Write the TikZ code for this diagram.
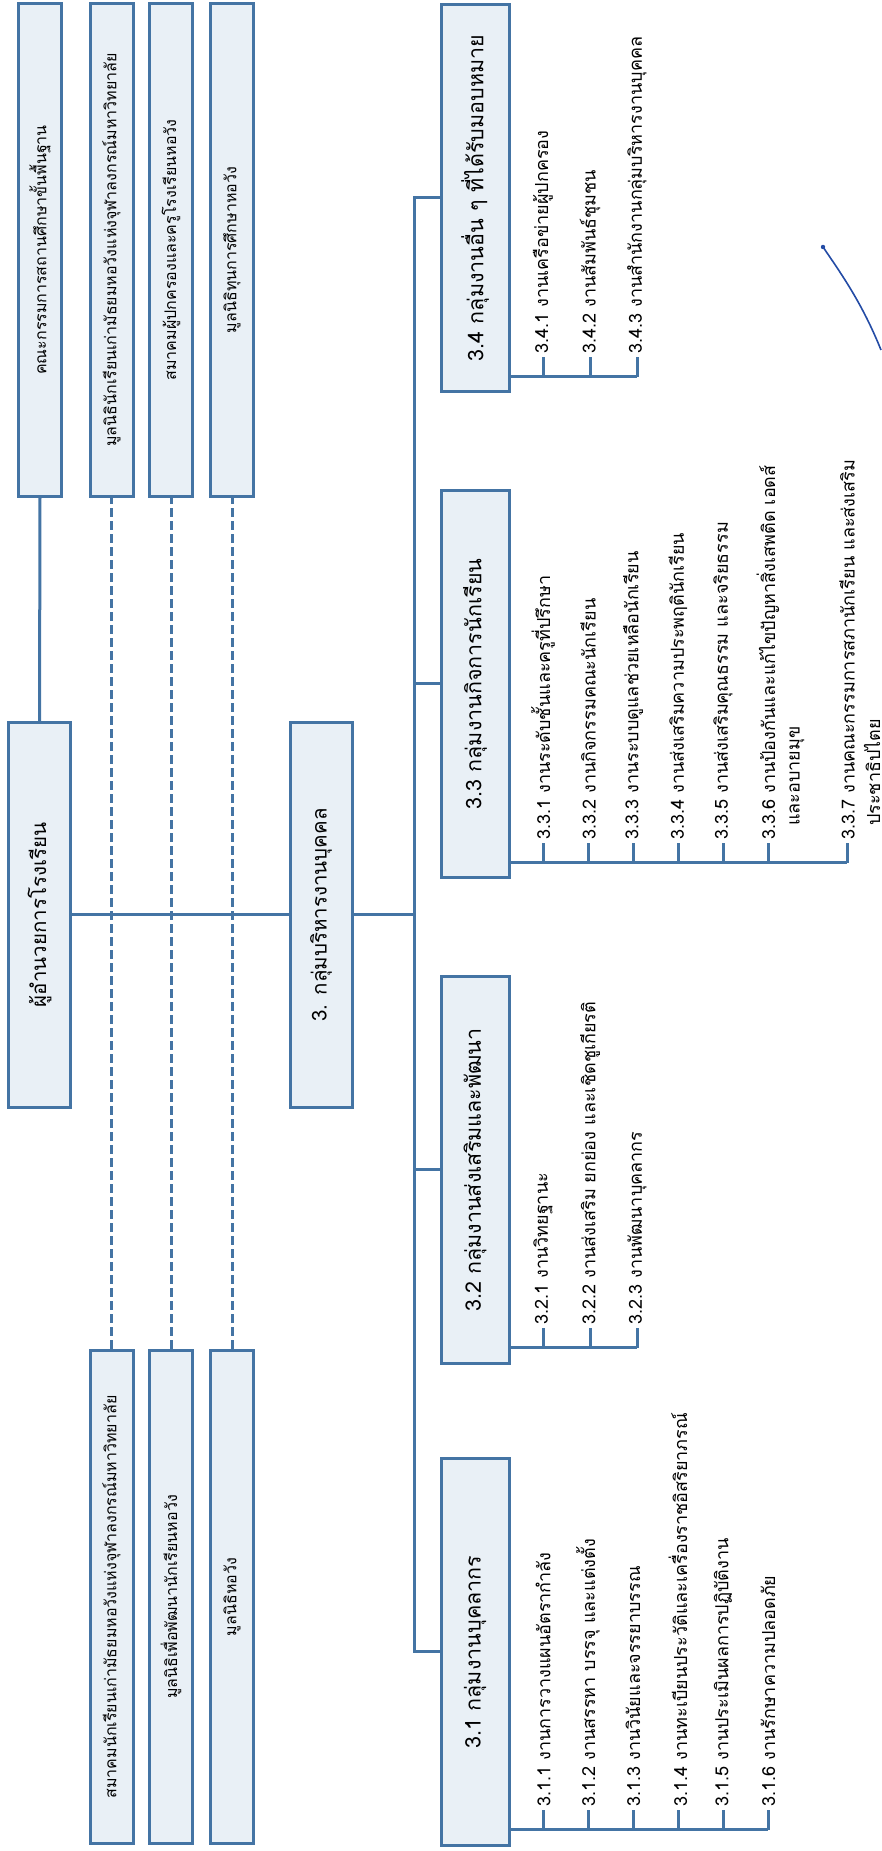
\documentclass[tikz,border=0pt]{standalone}
\usepackage{fontspec}
\usepackage{tikz}
\newfontfamily\thaifont[Script=Thai]{Loma}
\definecolor{boxblue}{RGB}{68,116,164}
\definecolor{boxfill}{RGB}{233,240,246}
\definecolor{penblue}{RGB}{35,75,165}
\usetikzlibrary{positioning, calc}

\begin{document}
\begin{tikzpicture}[
    x=1pt, y=1pt,
    line/.style={draw=boxblue, line width=3pt},
    dashline/.style={draw=boxblue, line width=3pt, dash pattern=on 9pt off 4pt},
    partner/.style={rectangle, draw=boxblue, fill=boxfill, line width=3pt, minimum width=493pt, minimum height=43pt, font=\thaifont\fontsize{16}{19}\selectfont},
    head/.style={rectangle, draw=boxblue, fill=boxfill, line width=3pt, minimum width=385pt, minimum height=62pt, font=\thaifont\fontsize{20.5}{24}\selectfont},
    group/.style={rectangle, draw=boxblue, fill=boxfill, line width=3pt, minimum width=387pt, minimum height=68pt, font=\thaifont\fontsize{21.5}{25}\selectfont},
    item/.style={anchor=west, inner sep=3pt, font=\thaifont\fontsize{18}{21}\selectfont}
]
\begin{scope}[rotate=90, transform shape]
    \useasboundingbox (0,-881) rectangle (1851,0);

    % partners
    \node[partner] (kk) at (1601,-40) {คณะกรรมการสถานศึกษาขั้นพื้นฐาน};
    \node[partner] (mn) at (1601,-111.5) {มูลนิธินักเรียนเก่ามัธยมหอวังแห่งจุฬาลงกรณ์มหาวิทยาลัย};
    \node[partner] (sp) at (1601,-171) {สมาคมผู้ปกครองและครูโรงเรียนหอวัง};
    \node[partner] (mt) at (1601,-232) {มูลนิธิทุนการศึกษาหอวัง};
    \node[partner] (sa) at (254,-111.5) {สมาคมนักเรียนเก่ามัธยมหอวังแห่งจุฬาลงกรณ์มหาวิทยาลัย};
    \node[partner] (mp) at (254,-171) {มูลนิธิเพื่อพัฒนานักเรียนหอวัง};
    \node[partner] (mh) at (254,-232) {มูลนิธิหอวัง};

    % heads
    \node[head] (dir) at (936,-39.5) {ผู้อำนวยการโรงเรียน};
    \node[head] (hr) at (936,-321) {3. กลุ่มบริหารงานบุคคล};

    \draw[line] (dir.east) -- (kk.west);
    \draw[line] (dir.south) -- (hr.north);
    \draw[dashline] (sa.east) -- (mn.west);
    \draw[dashline] (mp.east) -- (sp.west);
    \draw[dashline] (mh.east) -- (mt.west);

    % groups
    \node[group] (g31) at (199,-475) {3.1 กลุ่มงานบุคลากร};
    \node[group] (g32) at (681,-475) {3.2 กลุ่มงานส่งเสริมและพัฒนา};
    \node[group] (g33) at (1167,-475) {3.3 กลุ่มงานกิจการนักเรียน};
    \node[group] (g34) at (1653,-475) {3.4 กลุ่มงานอื่น ๆ ที่ได้รับมอบหมาย};

    \coordinate (c31) at (199,-414);
    \coordinate (c32) at (681,-414);
    \coordinate (c33) at (1167,-414);
    \coordinate (c34) at (1653,-414);
    \coordinate (chr) at (936,-414);
    \draw[line] (g31.north) -- (c31) -- (c34) -- (g34.north);
    \draw[line] (g32.north) -- (c32);
    \draw[line] (g33.north) -- (c33);
    \draw[line] (hr.south) -- (chr);

    % 3.1 items
    \coordinate (b31) at (21,-509);
    \coordinate (t31a) at (21,-543); \coordinate (t31b) at (21,-588); \coordinate (t31c) at (21,-633);
    \coordinate (t31d) at (21,-678); \coordinate (t31e) at (21,-723); \coordinate (t31f) at (21,-768);
    \node[item] (i31a) at (41,-543) {3.1.1 งานการวางแผนอัตรากำลัง};
    \node[item] (i31b) at (41,-588) {3.1.2 งานสรรหา บรรจุ และแต่งตั้ง};
    \node[item] (i31c) at (41,-633) {3.1.3 งานวินัยและจรรยาบรรณ};
    \node[item] (i31d) at (41,-678) {3.1.4 งานทะเบียนประวัติและเครื่องราชอิสริยาภรณ์};
    \node[item] (i31e) at (41,-723) {3.1.5 งานประเมินผลการปฏิบัติงาน};
    \node[item] (i31f) at (41,-768) {3.1.6 งานรักษาความปลอดภัย};
    \draw[line] (b31) -- (t31f);
    \draw[line] (t31a) -- (i31a.west) (t31b) -- (i31b.west) (t31c) -- (i31c.west)
        (t31d) -- (i31d.west) (t31e) -- (i31e.west) (t31f) -- (i31f.west);

    % 3.2 items
    \coordinate (b32) at (503,-509);
    \coordinate (t32a) at (503,-543); \coordinate (t32b) at (503,-590); \coordinate (t32c) at (503,-637);
    \node[item] (i32a) at (523,-543) {3.2.1 งานวิทยฐานะ};
    \node[item] (i32b) at (523,-590) {3.2.2 งานส่งเสริม ยกย่อง และเชิดชูเกียรติ};
    \node[item] (i32c) at (523,-637) {3.2.3 งานพัฒนาบุคลากร};
    \draw[line] (b32) -- (t32c);
    \draw[line] (t32a) -- (i32a.west) (t32b) -- (i32b.west) (t32c) -- (i32c.west);

    % 3.3 items
    \coordinate (b33) at (988,-509);
    \coordinate (t33a) at (988,-543); \coordinate (t33b) at (988,-588); \coordinate (t33c) at (988,-633);
    \coordinate (t33d) at (988,-678); \coordinate (t33e) at (988,-723); \coordinate (t33f) at (988,-768);
    \coordinate (t33g) at (988,-847);
    \node[item] (i33a) at (1008,-543) {3.3.1 งานระดับชั้นและครูที่ปรึกษา};
    \node[item] (i33b) at (1008,-588) {3.3.2 งานกิจกรรมคณะนักเรียน};
    \node[item] (i33c) at (1008,-633) {3.3.3 งานระบบดูแลช่วยเหลือนักเรียน};
    \node[item] (i33d) at (1008,-678) {3.3.4 งานส่งเสริมความประพฤตินักเรียน};
    \node[item] (i33e) at (1008,-723) {3.3.5 งานส่งเสริมคุณธรรม และจริยธรรม};
    \node[item] (i33f) at (1008,-768) {3.3.6 งานป้องกันและแก้ไขปัญหาสิ่งเสพติด เอดส์};
    \node[item] (i33f2) at (1022,-797) {และอบายมุข};
    \node[item] (i33g) at (1008,-847) {3.3.7 งานคณะกรรมการสภานักเรียน และส่งเสริม};
    \node[item] (i33g2) at (1022,-872) {ประชาธิปไตย};
    \draw[line] (b33) -- (t33g);
    \draw[line] (t33a) -- (i33a.west) (t33b) -- (i33b.west) (t33c) -- (i33c.west)
        (t33d) -- (i33d.west) (t33e) -- (i33e.west) (t33f) -- (i33f.west) (t33g) -- (i33g.west);

    % 3.4 items
    \coordinate (b34) at (1474,-509);
    \coordinate (t34a) at (1474,-543); \coordinate (t34b) at (1474,-590); \coordinate (t34c) at (1474,-637);
    \node[item] (i34a) at (1494,-543) {3.4.1 งานเครือข่ายผู้ปกครอง};
    \node[item] (i34b) at (1494,-590) {3.4.2 งานสัมพันธ์ชุมชน};
    \node[item] (i34c) at (1494,-637) {3.4.3 งานสำนักงานกลุ่มบริหารงานบุคคล};
    \draw[line] (b34) -- (t34c);
    \draw[line] (t34a) -- (i34a.west) (t34b) -- (i34b.west) (t34c) -- (i34c.west);

    % pen stroke
    \fill[penblue] (1604,-823) circle (2.2);
    \draw[penblue, line width=1.6pt] (1604,-823) .. controls (1576,-842) and (1548,-862) .. (1501,-881);
\end{scope}
\end{tikzpicture}
\end{document}
